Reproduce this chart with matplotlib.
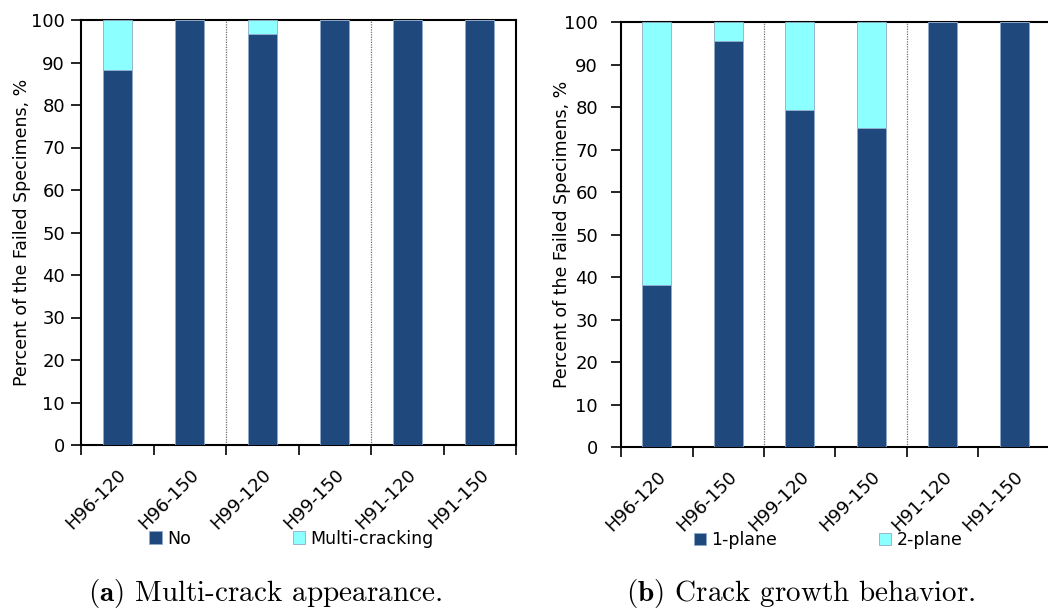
import matplotlib
matplotlib.use("Agg")
import matplotlib.pyplot as plt
import numpy as np

categories = ["H96-120", "H96-150", "H99-120", "H99-150", "H91-120", "H91-150"]
no_multi = [88.3, 100, 96.6, 100, 100, 100]
multi_cracking = [11.7, 0, 3.4, 0, 0, 0]
one_plane = [38.1, 95.6, 79.3, 75.0, 100, 100]
two_plane = [61.9, 4.4, 20.7, 25.0, 0, 0]

DARK = "#1F497D"
CYAN = "#8CFFFF"
EDGE = "#8FAACB"

plt.rcParams["font.family"] = ["DejaVu Sans"]
plt.rcParams["mathtext.fontset"] = "cm"

fig = plt.figure(figsize=(10.48, 6.10), dpi=100)
W, H = 1048.0, 610.0

def make_ax(x0, x1, ytop, ybot):
    return fig.add_axes([x0 / W, 1 - ybot / H, (x1 - x0) / W, (ybot - ytop) / H])

axL = make_ax(81, 516, 20, 445)
axR = make_ax(621, 1050, 22.3, 447)

def draw(ax, s1, s2, lab1, lab2, tickpad, leg_x, ylab_x):
    x = np.arange(len(categories))
    ax.bar(x, s1, width=0.4, color=DARK, edgecolor=EDGE, linewidth=0.6, label=lab1, zorder=3)
    ax.bar(x, s2, width=0.4, bottom=s1, color=CYAN, edgecolor=EDGE, linewidth=0.6, label=lab2, zorder=3)
    ax.set_xlim(-0.5, len(categories) - 0.5)
    ax.set_ylim(0, 100)
    ax.set_yticks(np.arange(0, 101, 10))
    ax.tick_params(axis="y", direction="out", length=7, width=1.2, labelsize=13, pad=tickpad)
    ax.set_xticks(x)
    ax.set_xticklabels(categories, rotation=45, ha="right", rotation_mode="anchor", fontsize=13)
    ax.tick_params(axis="x", which="major", length=0, pad=15)
    ax.set_xticks(np.arange(-0.5, len(categories), 1.0), minor=True)
    ax.tick_params(axis="x", which="minor", direction="out", length=7, width=1.2)
    for b in [1.5, 3.5]:
        ax.axvline(b, color="#707070", linestyle=(0, (1, 1)), linewidth=0.9, zorder=2)
    for sp in ax.spines.values():
        sp.set_linewidth(1.5)
        sp.set_color("black")
    ax.set_ylabel("Percent of the Failed Specimens, %", fontsize=12.5)
    ax.yaxis.set_label_coords(ylab_x, 0.5)
    ax.legend(loc="center", bbox_to_anchor=(leg_x, -0.22), ncol=2, frameon=False,
              fontsize=12.5, handlelength=0.7, handleheight=0.7, handletextpad=0.3,
              columnspacing=5.9)

draw(axL, no_multi, multi_cracking, "No", "Multi-cracking", 4.5, 0.484, -0.115)
draw(axR, one_plane, two_plane, "1-plane", "2-plane", 9.5, 0.4825, -0.117)

fig.text(264.5 / W, 1 - 593 / H, r"$\mathbf{(a)}$ Multi-crack appearance.", family="cmr10",
         fontsize=21, ha="center", va="center")
fig.text(800.5 / W, 1 - 593 / H, r"$\mathbf{(b)}$ Crack growth behavior.", family="cmr10",
         fontsize=21, ha="center", va="center")

fig.savefig("out.png", dpi=100)
